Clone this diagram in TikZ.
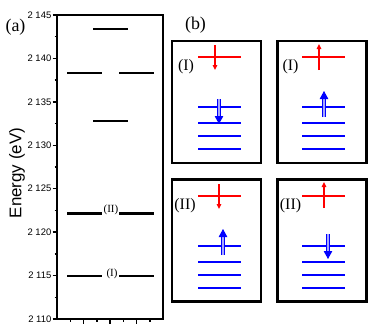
\documentclass[tikz,border=0pt]{standalone}
\usepackage{fontspec}
\setmainfont{Liberation Serif}
\setsansfont{Liberation Sans}
\usetikzlibrary{arrows.meta}

\begin{document}
\begin{tikzpicture}[
                x=1bp, y=-1bp,
                axisline/.style={line width=1.5bp},
                level/.style={line width=2.5bp},
                panel/.style={draw, line width=2.5bp, minimum width=89bp, minimum height=122bp, inner sep=0pt},
                redlevel/.style={red, line width=1.3bp},
                bluelevel/.style={blue, line width=1.3bp},
                spinred/.style={red, line width=1.5bp, -{Triangle[width=4.5bp, length=5bp]}},
                spinblue/.style={draw=blue, double=blue!35, double distance=1.6bp, line width=0.9bp, -{Triangle[width=8.5bp, length=8bp]}},
                ticklabel/.style={font=\sffamily\fontsize{9.5}{10}\selectfont, anchor=east, inner sep=1bp},
                tag/.style={font=\fontsize{16}{16}\selectfont, inner sep=0pt},
                bigtag/.style={font=\fontsize{18}{18}\selectfont, inner sep=0pt},
                smalltag/.style={font=\fontsize{11}{11}\selectfont, inner sep=0pt}
            ]
            \useasboundingbox (0,0) rectangle (374,332);

            % (a) energy levels
            \draw[axisline] (57,15) rectangle (163,319);
            \foreach \k in {0,...,7} {
                \pgfmathsetmacro\yy{15+\k*43.43}
                \pgfmathtruncatemacro\ee{145-5*\k}
                \draw[axisline] (52.5,\yy) -- (57,\yy);
                \node[ticklabel] (tick\k) at (52.5,\yy) {2 \ee};
            }
            \foreach \k in {0,...,6}
                \draw[axisline] (54.5,15+\k*43.43+21.7) -- (57,15+\k*43.43+21.7);
            \foreach \i in {1,3,5,7}
                \draw[axisline] (57+\i*13.25,319) -- (57+\i*13.25,322);
            \foreach \i in {2,4,6}
                \draw[axisline] (57+\i*13.25,319) -- (57+\i*13.25,324);
            \node[rotate=90, font=\sffamily\fontsize{17}{17}\selectfont] (ylab) at (17,173) {Energy (eV)};

            \draw[level] (93,29) -- (128,29);
            \draw[level] (67,73) -- (102,73);
            \draw[level] (119,73) -- (154,73);
            \draw[level] (93,121) -- (128,121);
            \draw[level] (67,213.5) -- (102,213.5);
            \draw[level] (119,213.5) -- (154,213.5);
            \draw[level] (67,276) -- (102,276);
            \draw[level] (119,276) -- (154,276);
            \node[smalltag] (lvlII) at (111,210) {(II)};
            \node[smalltag] (lvlI) at (112,273.5) {(I)};
            \node[bigtag] (capa) at (15.5,27) {(a)};

            % (b) spin configurations
            \node[bigtag] (capb) at (195.5,25.5) {(b)};
            \node[panel] (boxIdn) at (216.5,102) {};
            \node[panel] (boxIup) at (322,102) {};
            \node[panel] (boxIIdn) at (216.5,240.5) {};
            \node[panel] (boxIIup) at (322,240.5) {};
            \foreach \dx in {0,104}
                \foreach \dy in {0,139} {
                    \draw[redlevel] (198+\dx,57+\dy) -- (241+\dx,57+\dy);
                    \foreach \yb in {107,123,136,149}
                        \draw[bluelevel] (198+\dx,\yb+\dy) -- (241+\dx,\yb+\dy);
                }
            \draw[spinred] (215,45) -- (215,70);
            \draw[spinred] (319,70) -- (319,44);
            \draw[spinred] (219,184) -- (219,209);
            \draw[spinred] (324,208) -- (324,182);
            \draw[spinblue] (219,99) -- (219,124);
            \draw[spinblue] (324,117) -- (324,91);
            \draw[spinblue] (223,255) -- (223,229);
            \draw[spinblue] (328,234) -- (328,259);
            \node[tag] (labIdn) at (186,66.5) {(I)};
            \node[tag] (labIup) at (290.5,66.5) {(I)};
            \node[tag] (labIIdn) at (185,205.5) {(II)};
            \node[tag] (labIIup) at (290.5,205.5) {(II)};
            \end{tikzpicture}
\end{document}
